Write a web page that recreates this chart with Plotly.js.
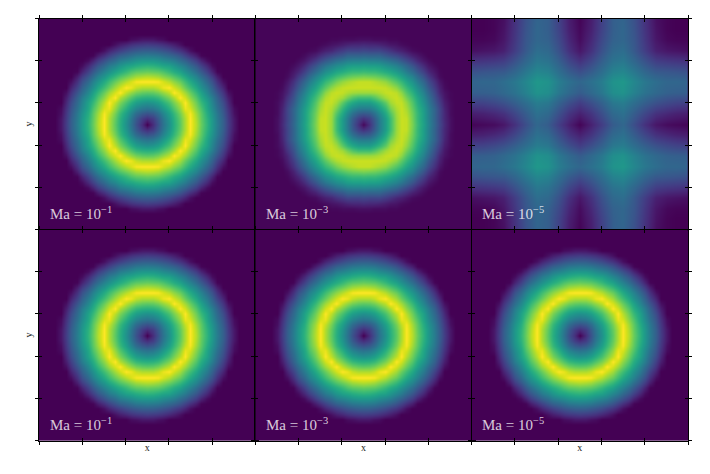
<!DOCTYPE html>
<html><head><meta charset="utf-8">
<script src="https://cdn.plot.ly/plotly-3.0.1.min.js"></script>
<style>html,body{margin:0;padding:0;background:#fff}#c{width:710px;height:474px}</style>
</head><body><div id="c"></div>
<script>
// One quadrant of each field (centre at [0][0]), values in percent of the colour range.
const ringSharp = [
[0,13,25,38,50,63,75,88,100,89,77,65,53,42,30,18,6,0,0,0,0],
[13,18,28,40,52,64,76,88,100,88,76,64,53,41,30,17,6,0,0,0,0],
[25,28,35,45,56,67,79,91,99,86,75,62,51,40,28,16,4,0,0,0,0],
[38,40,45,53,63,73,84,97,94,82,72,59,48,37,26,14,3,0,0,0,0],
[50,52,56,63,71,80,90,100,89,78,67,57,45,34,23,11,0,0,0,0,0],
[63,64,67,73,80,88,100,93,83,73,62,52,42,31,19,8,0,0,0,0,0],
[75,76,79,84,90,100,94,86,77,67,57,46,36,26,15,4,0,0,0,0,0],
[88,88,91,97,100,93,86,77,69,60,50,41,31,20,10,0,0,0,0,0,0],
[100,100,99,94,89,83,77,69,61,52,44,34,25,14,4,0,0,0,0,0,0],
[89,88,86,82,78,73,67,60,52,45,36,27,18,8,0,0,0,0,0,0,0],
[77,76,75,72,67,62,57,50,44,36,28,19,10,1,0,0,0,0,0,0,0],
[65,64,62,59,57,52,46,41,34,27,19,11,3,0,0,0,0,0,0,0,0],
[53,53,51,48,45,42,36,31,25,18,10,3,0,0,0,0,0,0,0,0,0],
[42,41,40,37,34,31,26,20,14,8,1,0,0,0,0,0,0,0,0,0,0],
[30,30,28,26,23,19,15,10,4,0,0,0,0,0,0,0,0,0,0,0,0],
[18,17,16,14,11,8,4,0,0,0,0,0,0,0,0,0,0,0,0,0,0],
[6,6,4,3,0,0,0,0,0,0,0,0,0,0,0,0,0,0,0,0,0],
[0,0,0,0,0,0,0,0,0,0,0,0,0,0,0,0,0,0,0,0,0],
[0,0,0,0,0,0,0,0,0,0,0,0,0,0,0,0,0,0,0,0,0],
[0,0,0,0,0,0,0,0,0,0,0,0,0,0,0,0,0,0,0,0,0],
[0,0,0,0,0,0,0,0,0,0,0,0,0,0,0,0,0,0,0,0,0]];
const ringBlurred = [
[2,14,27,41,55,69,85,92,91,80,68,57,45,33,22,12,4,1,1,1,1],
[14,19,29,42,55,69,85,92,91,79,67,56,44,32,21,11,4,1,1,1,1],
[27,29,37,47,60,73,86,92,89,78,67,56,44,32,21,11,3,1,1,1,1],
[41,42,47,56,66,79,88,92,87,76,65,55,43,32,21,10,3,1,1,1,1],
[55,55,60,66,75,86,91,91,84,73,62,51,40,28,18,8,3,1,1,1,1],
[69,69,73,79,86,90,92,88,79,69,59,48,37,25,15,6,2,1,1,1,1],
[85,85,86,88,91,92,90,83,73,64,54,44,33,22,11,5,2,1,1,1,1],
[92,92,92,92,91,88,83,75,67,58,49,39,28,18,9,3,1,1,1,1,1],
[91,91,89,87,84,79,73,67,59,51,42,33,23,14,6,2,1,1,1,1,1],
[80,79,78,76,73,69,64,58,51,44,35,26,17,9,3,1,1,1,1,1,1],
[68,67,67,65,62,59,54,49,42,35,27,19,11,6,2,1,1,1,1,1,1],
[57,56,56,55,51,48,44,39,33,26,19,12,6,3,1,1,1,1,1,1,1],
[45,44,44,43,40,37,33,28,23,17,11,6,3,1,1,1,1,1,1,1,1],
[33,32,32,32,28,25,22,18,14,9,6,3,1,1,1,1,1,1,1,1,1],
[22,21,21,21,18,15,11,9,6,3,2,1,1,1,1,1,1,1,1,1,1],
[12,11,11,10,8,6,5,3,2,1,1,1,1,1,1,1,1,1,1,1,1],
[4,4,3,3,3,2,2,1,1,1,1,1,1,1,1,1,1,1,1,1,1],
[1,1,1,1,1,1,1,1,1,1,1,1,1,1,1,1,1,1,1,1,1],
[1,1,1,1,1,1,1,1,1,1,1,1,1,1,1,1,1,1,1,1,1],
[1,1,1,1,1,1,1,1,1,1,1,1,1,1,1,1,1,1,1,1,1],
[1,1,1,1,1,1,1,1,1,1,1,1,1,1,1,1,1,1,1,1,1]];
const crossPattern = [
[1,9,18,29,33,24,14,6,3,2,1],
[9,15,24,34,37,29,21,14,11,9,8],
[18,24,31,40,42,36,30,25,22,20,19],
[29,34,40,49,51,44,38,34,31,30,30],
[33,37,42,51,53,46,40,36,33,33,32],
[24,29,36,44,46,40,33,28,27,26,25],
[14,21,30,38,40,33,25,18,16,15,14],
[6,14,25,34,36,28,18,9,6,5,4],
[3,11,22,31,33,27,16,6,2,1,1],
[2,9,20,30,33,26,15,5,1,0,0],
[1,8,19,30,32,25,14,4,1,0,0]];
const panelFields = [ringSharp, ringBlurred, crossPattern, ringSharp, ringSharp, ringSharp];
const panelExponents = ["−1", "−3", "−5", "−1", "−3", "−5"];
const xTicks = [-0.5, -0.3, -0.1, 0.1, 0.3, 0.5];
const yTicks = [-0.5, -0.3, -0.1, 0.1, 0.3, 0.5];

const W = 710, H = 474;
const colEdges = [39, 255.3, 471.7, 688];
const rowEdges = [18.5, 229.5, 440.5];

function mirror(q) {
  const n = q.length - 1, out = [];
  for (let j = -n; j <= n; j++) {
    const row = [];
    for (let i = -n; i <= n; i++) row.push(q[Math.abs(j)][Math.abs(i)]);
    out.push(row);
  }
  return out;
}
function coords(q) {
  const n = q.length - 1, c = [];
  for (let i = -n; i <= n; i++) c.push(i / (2 * n));
  return c;
}

const data = [], annotations = [];
const layout = {
  width: W, height: H, margin: {l: 0, r: 0, t: 0, b: 0, pad: 0},
  paper_bgcolor: "#fff", plot_bgcolor: "#440154", showlegend: false,
  annotations: annotations
};
const serif = "'Liberation Serif','DejaVu Serif',serif";

panelFields.forEach((q, k) => {
  const col = k % 3, row = Math.floor(k / 3);
  const id = k + 1, ov = k + 7;
  const xd = [colEdges[col] / W, colEdges[col + 1] / W];
  const yd = [1 - rowEdges[row + 1] / H, 1 - rowEdges[row] / H];
  const c = coords(q);
  data.push({type: "heatmap", x: c, y: c, z: mirror(q), zmin: 0, zmax: 100,
    colorscale: "Viridis", showscale: false, zsmooth: "best", hoverinfo: "skip",
    xaxis: "x" + id, yaxis: "y" + id});
  data.push({type: "scatter", x: [], y: [], xaxis: "x" + ov, yaxis: "y" + ov});
  const base = {range: [-0.5, 0.5], tickmode: "array", showticklabels: false, showgrid: false,
    zeroline: false, ticklen: 3, tickwidth: 1, tickcolor: "#000", fixedrange: true};
  layout["xaxis" + id] = Object.assign({}, base, {domain: xd, anchor: "y" + id, tickvals: xTicks,
    ticks: "outside", mirror: "allticks", showline: true, linecolor: "#000", linewidth: 1,
    title: row === 1 ? {text: "x", font: {family: serif, size: 10, color: "#222"}, standoff: 0} : undefined});
  layout["yaxis" + id] = Object.assign({}, base, {domain: yd, anchor: "x" + id, tickvals: yTicks,
    ticks: "outside", mirror: "allticks", showline: true, linecolor: "#000", linewidth: 1,
    title: col === 0 ? {text: "y", font: {family: serif, size: 10, color: "#222"}, standoff: 0} : undefined});
  layout["xaxis" + ov] = Object.assign({}, base, {domain: xd, anchor: "y" + ov, overlaying: "x" + id,
    tickvals: xTicks, ticks: "inside", mirror: "ticks", showline: false});
  layout["yaxis" + ov] = Object.assign({}, base, {domain: yd, anchor: "x" + ov, overlaying: "y" + id,
    tickvals: yTicks, ticks: "inside", mirror: "ticks", showline: false});
  annotations.push({xref: "x" + id + " domain", yref: "y" + id + " domain", x: 0.04, y: 0.025,
    xanchor: "left", yanchor: "bottom", showarrow: false,
    text: "Ma\u00a0=\u00a010<sup>" + panelExponents[k] + "</sup>",
    font: {family: serif, size: 15, color: "rgba(255,255,255,0.8)"}});
});

Plotly.newPlot("c", data, layout, {displayModeBar: false, staticPlot: true});
</script>
</body></html>
